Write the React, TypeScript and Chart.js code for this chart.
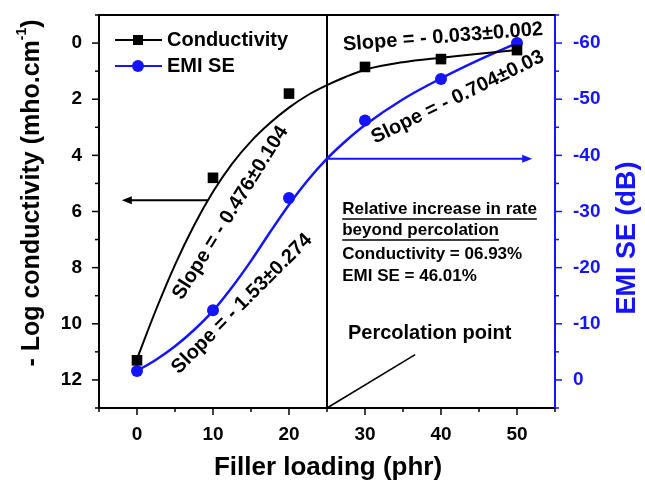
import React, { useEffect, useRef } from 'react';
import { Chart, registerables } from 'chart.js';

Chart.register(...registerables);

// ---- data ----
const fillerLoading = [0, 10, 20, 30, 40, 50];
const conductivity = [11.3, 4.8, 1.8, 0.85, 0.57, 0.25];
const emiSE = [-1.6, -12.4, -32.4, -46.2, -53.6, -60];

// fitted curves
const fitLoading = [0, 2.5, 5, 7.5, 10, 12.5, 15, 17.5, 20, 22.5, 25, 27.5, 30, 35, 40, 45, 50];
const conductivityFit = [11.25, 9.5, 7.9, 6.5, 5.3, 4.3, 3.5, 2.85, 2.3, 1.85, 1.5, 1.2, 0.95, 0.68, 0.52, 0.38, 0.25];
const emiSEFit = [-1.6, -3.6, -6.0, -8.9, -12.3, -16.5, -21.2, -26.3, -31.2, -35.6, -39.4, -42.6, -45.4, -50.0, -53.7, -57.0, -60];

const xTickValues = [0, 10, 20, 30, 40, 50];
const leftTickValues = [0, 2, 4, 6, 8, 10, 12];
const rightTickValues = [-60, -50, -40, -30, -20, -10, 0];

const seriesNames = ['Conductivity', 'EMI SE'];
const slopeLabels = [
  'Slope = - 0.033±0.002',
  'Slope = - 0.704±0.03',
  'Slope = - 0.476±0.104',
  'Slope = - 1.53±0.274',
];
const infoLines = [
  'Relative increase in rate',
  'beyond percolation',
  'Conductivity = 06.93%',
  'EMI SE = 46.01%',
];
const percolationLabel = 'Percolation point';
const percolationLoading = 25;
const xTitle = 'Filler loading (phr)';
const leftTitle = '- Log conductivity (mho.cm';
const leftTitleSup = '-1';
const rightTitle = 'EMI SE (dB)';

const FONT = '"Liberation Sans", Arial, Helvetica, sans-serif';
const BLUE = '#1414ff';

function bold(size: number) {
  return `bold ${size}px ${FONT}`;
}

function arrow(ctx: CanvasRenderingContext2D, x1: number, y: number, x2: number, color: string) {
  ctx.save();
  ctx.strokeStyle = color;
  ctx.fillStyle = color;
  ctx.lineWidth = 2;
  const dir = Math.sign(x2 - x1);
  ctx.beginPath();
  ctx.moveTo(x1, y);
  ctx.lineTo(x2 - dir * 6, y);
  ctx.stroke();
  ctx.beginPath();
  ctx.moveTo(x2, y);
  ctx.lineTo(x2 - dir * 10, y - 4);
  ctx.lineTo(x2 - dir * 10, y + 4);
  ctx.closePath();
  ctx.fill();
  ctx.restore();
}

function rotatedText(ctx: CanvasRenderingContext2D, text: string, cx: number, cy: number, deg: number, size: number) {
  ctx.save();
  ctx.translate(cx, cy);
  ctx.rotate((deg * Math.PI) / 180);
  ctx.font = bold(size);
  ctx.fillStyle = '#000';
  ctx.textAlign = 'center';
  ctx.textBaseline = 'middle';
  ctx.fillText(text, 0, 0);
  ctx.restore();
}

const annotationPlugin = {
  id: 'annotations',
  beforeDatasetsDraw(chart: any) {
    const { ctx, chartArea, scales } = chart;
    const x = scales.x.getPixelForValue(percolationLoading);
    ctx.save();
    ctx.strokeStyle = '#000';
    ctx.lineWidth = 2;
    ctx.beginPath();
    ctx.moveTo(x, chartArea.top);
    ctx.lineTo(x, chartArea.bottom);
    ctx.stroke();
    // percolation pointer line
    ctx.lineWidth = 1.5;
    ctx.beginPath();
    ctx.moveTo(x, chartArea.bottom);
    ctx.lineTo(scales.x.getPixelForValue(36.6), scales.y.getPixelForValue(11.1));
    ctx.stroke();
    ctx.restore();
  },
  afterDraw(chart: any) {
    const { ctx, chartArea, scales } = chart;
    const sx = scales.x;
    const sy = scales.y;
    const sy1 = scales.y1;
    const { left, right, top, bottom } = chartArea;

    ctx.save();
    // top frame line
    ctx.strokeStyle = '#000';
    ctx.lineWidth = 2;
    ctx.beginPath();
    ctx.moveTo(left - 1, top);
    ctx.lineTo(right, top);
    ctx.stroke();

    // tick marks
    ctx.lineWidth = 1.5;
    for (let v = -5; v <= 55; v += 5) {
      const p = sx.getPixelForValue(v);
      const len = v % 10 === 0 ? 7 : 4;
      ctx.beginPath();
      ctx.moveTo(p, bottom);
      ctx.lineTo(p, bottom + len);
      ctx.stroke();
    }
    for (let v = -1; v <= 13; v += 1) {
      const p = sy.getPixelForValue(v);
      const len = v % 2 === 0 ? 7 : 4;
      ctx.beginPath();
      ctx.moveTo(left, p);
      ctx.lineTo(left - len, p);
      ctx.stroke();
    }
    ctx.strokeStyle = BLUE;
    for (let v = -65; v <= 5; v += 5) {
      const p = sy1.getPixelForValue(v);
      const len = v % 10 === 0 ? 7 : 4;
      ctx.beginPath();
      ctx.moveTo(right, p);
      ctx.lineTo(right + len, p);
      ctx.stroke();
    }

    // arrows
    arrow(ctx, sx.getPixelForValue(9.3), sy.getPixelForValue(5.6), sx.getPixelForValue(-2.0), '#000');
    arrow(ctx, sx.getPixelForValue(25), sy1.getPixelForValue(-39.4), sx.getPixelForValue(52), BLUE);

    // slope labels
    rotatedText(ctx, slopeLabels[0], sx.getPixelForValue(40.26), sy.getPixelForValue(-0.21), -4.5, 20);
    rotatedText(ctx, slopeLabels[1], sx.getPixelForValue(42.2), sy.getPixelForValue(1.93), -26, 20);
    rotatedText(ctx, slopeLabels[2], sx.getPixelForValue(12.3), sy.getPixelForValue(6.05), -58, 20);
    rotatedText(ctx, slopeLabels[3], sx.getPixelForValue(13.8), sy.getPixelForValue(9.29), -45, 20);

    // info block
    ctx.fillStyle = '#000';
    ctx.textAlign = 'left';
    ctx.textBaseline = 'middle';
    ctx.font = bold(17);
    const ix = sx.getPixelForValue(27.0);
    const iy = [5.93, 6.68, 7.54, 8.32];
    infoLines.forEach((t, i) => {
      const y = sy.getPixelForValue(iy[i]);
      ctx.fillText(t, ix, y);
      if (i < 2) {
        const w = ctx.measureText(t).width;
        ctx.lineWidth = 1.5;
        ctx.strokeStyle = '#000';
        ctx.beginPath();
        ctx.moveTo(ix, y + 9.5);
        ctx.lineTo(ix + w, y + 9.5);
        ctx.stroke();
      }
    });

    // percolation label
    ctx.font = bold(20);
    ctx.fillText(percolationLabel, sx.getPixelForValue(27.76), sy.getPixelForValue(10.36));

    // legend
    const markers = [
      { color: '#000', square: true, y: top + 25 },
      { color: BLUE, square: false, y: top + 51 },
    ];
    markers.forEach((m, i) => {
      ctx.strokeStyle = m.color;
      ctx.fillStyle = m.color;
      ctx.lineWidth = 2;
      ctx.beginPath();
      ctx.moveTo(left + 16, m.y);
      ctx.lineTo(left + 63, m.y);
      ctx.stroke();
      if (m.square) {
        ctx.fillRect(left + 34, m.y - 5, 10, 10);
      } else {
        ctx.beginPath();
        ctx.arc(left + 39, m.y, 6, 0, Math.PI * 2);
        ctx.fill();
      }
      ctx.fillStyle = '#000';
      ctx.font = bold(20);
      ctx.textAlign = 'left';
      ctx.textBaseline = 'middle';
      ctx.fillText(seriesNames[i], left + 68, m.y);
    });

    // axis titles
    ctx.fillStyle = '#000';
    ctx.font = bold(26);
    ctx.textAlign = 'center';
    ctx.textBaseline = 'middle';
    ctx.fillText(xTitle, 328, 468);

    // left title with superscript
    ctx.save();
    ctx.translate(32, 193);
    ctx.rotate(-Math.PI / 2);
    ctx.font = bold(25);
    const w1 = ctx.measureText(leftTitle).width;
    ctx.font = bold(14);
    const w2 = ctx.measureText(leftTitleSup).width;
    ctx.font = bold(25);
    const w3 = ctx.measureText(')').width;
    const total = w1 + w2 + w3;
    let x0 = -total / 2;
    ctx.textAlign = 'left';
    ctx.textBaseline = 'middle';
    ctx.fillText(leftTitle, x0, 0);
    x0 += w1;
    ctx.font = bold(14);
    ctx.fillText(leftTitleSup, x0, -10);
    x0 += w2;
    ctx.font = bold(25);
    ctx.fillText(')', x0, 0);
    ctx.restore();

    // right title
    ctx.save();
    ctx.translate(628, 238);
    ctx.rotate(-Math.PI / 2);
    ctx.font = bold(27);
    ctx.fillStyle = BLUE;
    ctx.textAlign = 'center';
    ctx.textBaseline = 'middle';
    ctx.fillText(rightTitle, 0, 0);
    ctx.restore();

    ctx.restore();
  },
};

function fixVertical(width: number) {
  return (s: any) => {
    s.width = width;
    s.paddingTop = 0;
    s.paddingBottom = 0;
  };
}

export default function App() {
  const ref = useRef<HTMLCanvasElement>(null);

  useEffect(() => {
    const canvas = ref.current;
    if (!canvas) return;
    const toXY = (xs: number[], ys: number[]) => xs.map((x, i) => ({ x, y: ys[i] }));

    const chart = new Chart(canvas, {
      type: 'line',
      data: {
        datasets: [
          {
            label: seriesNames[0],
            data: toXY(fillerLoading, conductivity),
            yAxisID: 'y',
            showLine: false,
            pointStyle: 'rect',
            pointRadius: 7.5,
            backgroundColor: '#000',
            borderColor: '#000',
            borderWidth: 0,
          },
          {
            label: seriesNames[1],
            data: toXY(fillerLoading, emiSE),
            yAxisID: 'y1',
            showLine: false,
            pointStyle: 'circle',
            pointRadius: 6,
            backgroundColor: BLUE,
            borderColor: BLUE,
            borderWidth: 0,
          },
          {
            label: 'Conductivity fit',
            data: toXY(fitLoading, conductivityFit),
            yAxisID: 'y',
            borderColor: '#000',
            borderWidth: 2,
            pointRadius: 0,
            cubicInterpolationMode: 'monotone',
            fill: false,
          },
          {
            label: 'EMI SE fit',
            data: toXY(fitLoading, emiSEFit),
            yAxisID: 'y1',
            borderColor: BLUE,
            borderWidth: 2.5,
            pointRadius: 0,
            cubicInterpolationMode: 'monotone',
            fill: false,
          },
        ],
      } as any,
      options: {
        responsive: false,
        animation: false,
        devicePixelRatio: 1,
        layout: { autoPadding: false, padding: { top: 15, left: 0, right: 0, bottom: 0 } },
        plugins: {
          legend: { display: false },
          tooltip: { enabled: false },
          title: { display: false },
        },
        scales: {
          x: {
            type: 'linear',
            min: -5,
            max: 55,
            afterBuildTicks: (s: any) => {
              s.ticks = xTickValues.map((v) => ({ value: v }));
            },
            afterFit: (s: any) => {
              s.height = 77;
              s.paddingLeft = 0;
              s.paddingRight = 0;
            },
            grid: { display: false, drawTicks: false },
            border: { display: true, color: '#000', width: 2 },
            ticks: {
              color: '#000',
              font: { family: FONT, size: 19, weight: 'bold' },
              padding: 15,
              maxRotation: 0,
              autoSkip: false,
              callback: (v: any) => String(v),
            },
          },
          y: {
            type: 'linear',
            position: 'left',
            min: -1,
            max: 13,
            reverse: true,
            afterBuildTicks: (s: any) => {
              s.ticks = leftTickValues.map((v) => ({ value: v }));
            },
            afterFit: fixVertical(99),
            grid: { display: false, drawTicks: false },
            border: { display: true, color: '#000', width: 2 },
            ticks: {
              color: '#000',
              font: { family: FONT, size: 19, weight: 'bold' },
              padding: 17,
              autoSkip: false,
              callback: (v: any) => String(v),
            },
          },
          y1: {
            type: 'linear',
            position: 'right',
            min: -65,
            max: 5,
            reverse: true,
            afterBuildTicks: (s: any) => {
              s.ticks = rightTickValues.map((v) => ({ value: v }));
            },
            afterFit: fixVertical(90),
            grid: { display: false, drawTicks: false },
            border: { display: true, color: BLUE, width: 2 },
            ticks: {
              color: BLUE,
              font: { family: FONT, size: 19, weight: 'bold' },
              padding: 18,
              autoSkip: false,
              callback: (v: any) => String(v),
            },
          },
        },
      } as any,
      plugins: [annotationPlugin],
    });

    return () => chart.destroy();
  }, []);

  return (
    <div style={{ position: 'fixed', left: 0, top: 0, width: 645, height: 485, background: '#fff' }}>
      <canvas ref={ref} width={645} height={485} style={{ display: 'block', width: 645, height: 485 }} />
    </div>
  );
}
